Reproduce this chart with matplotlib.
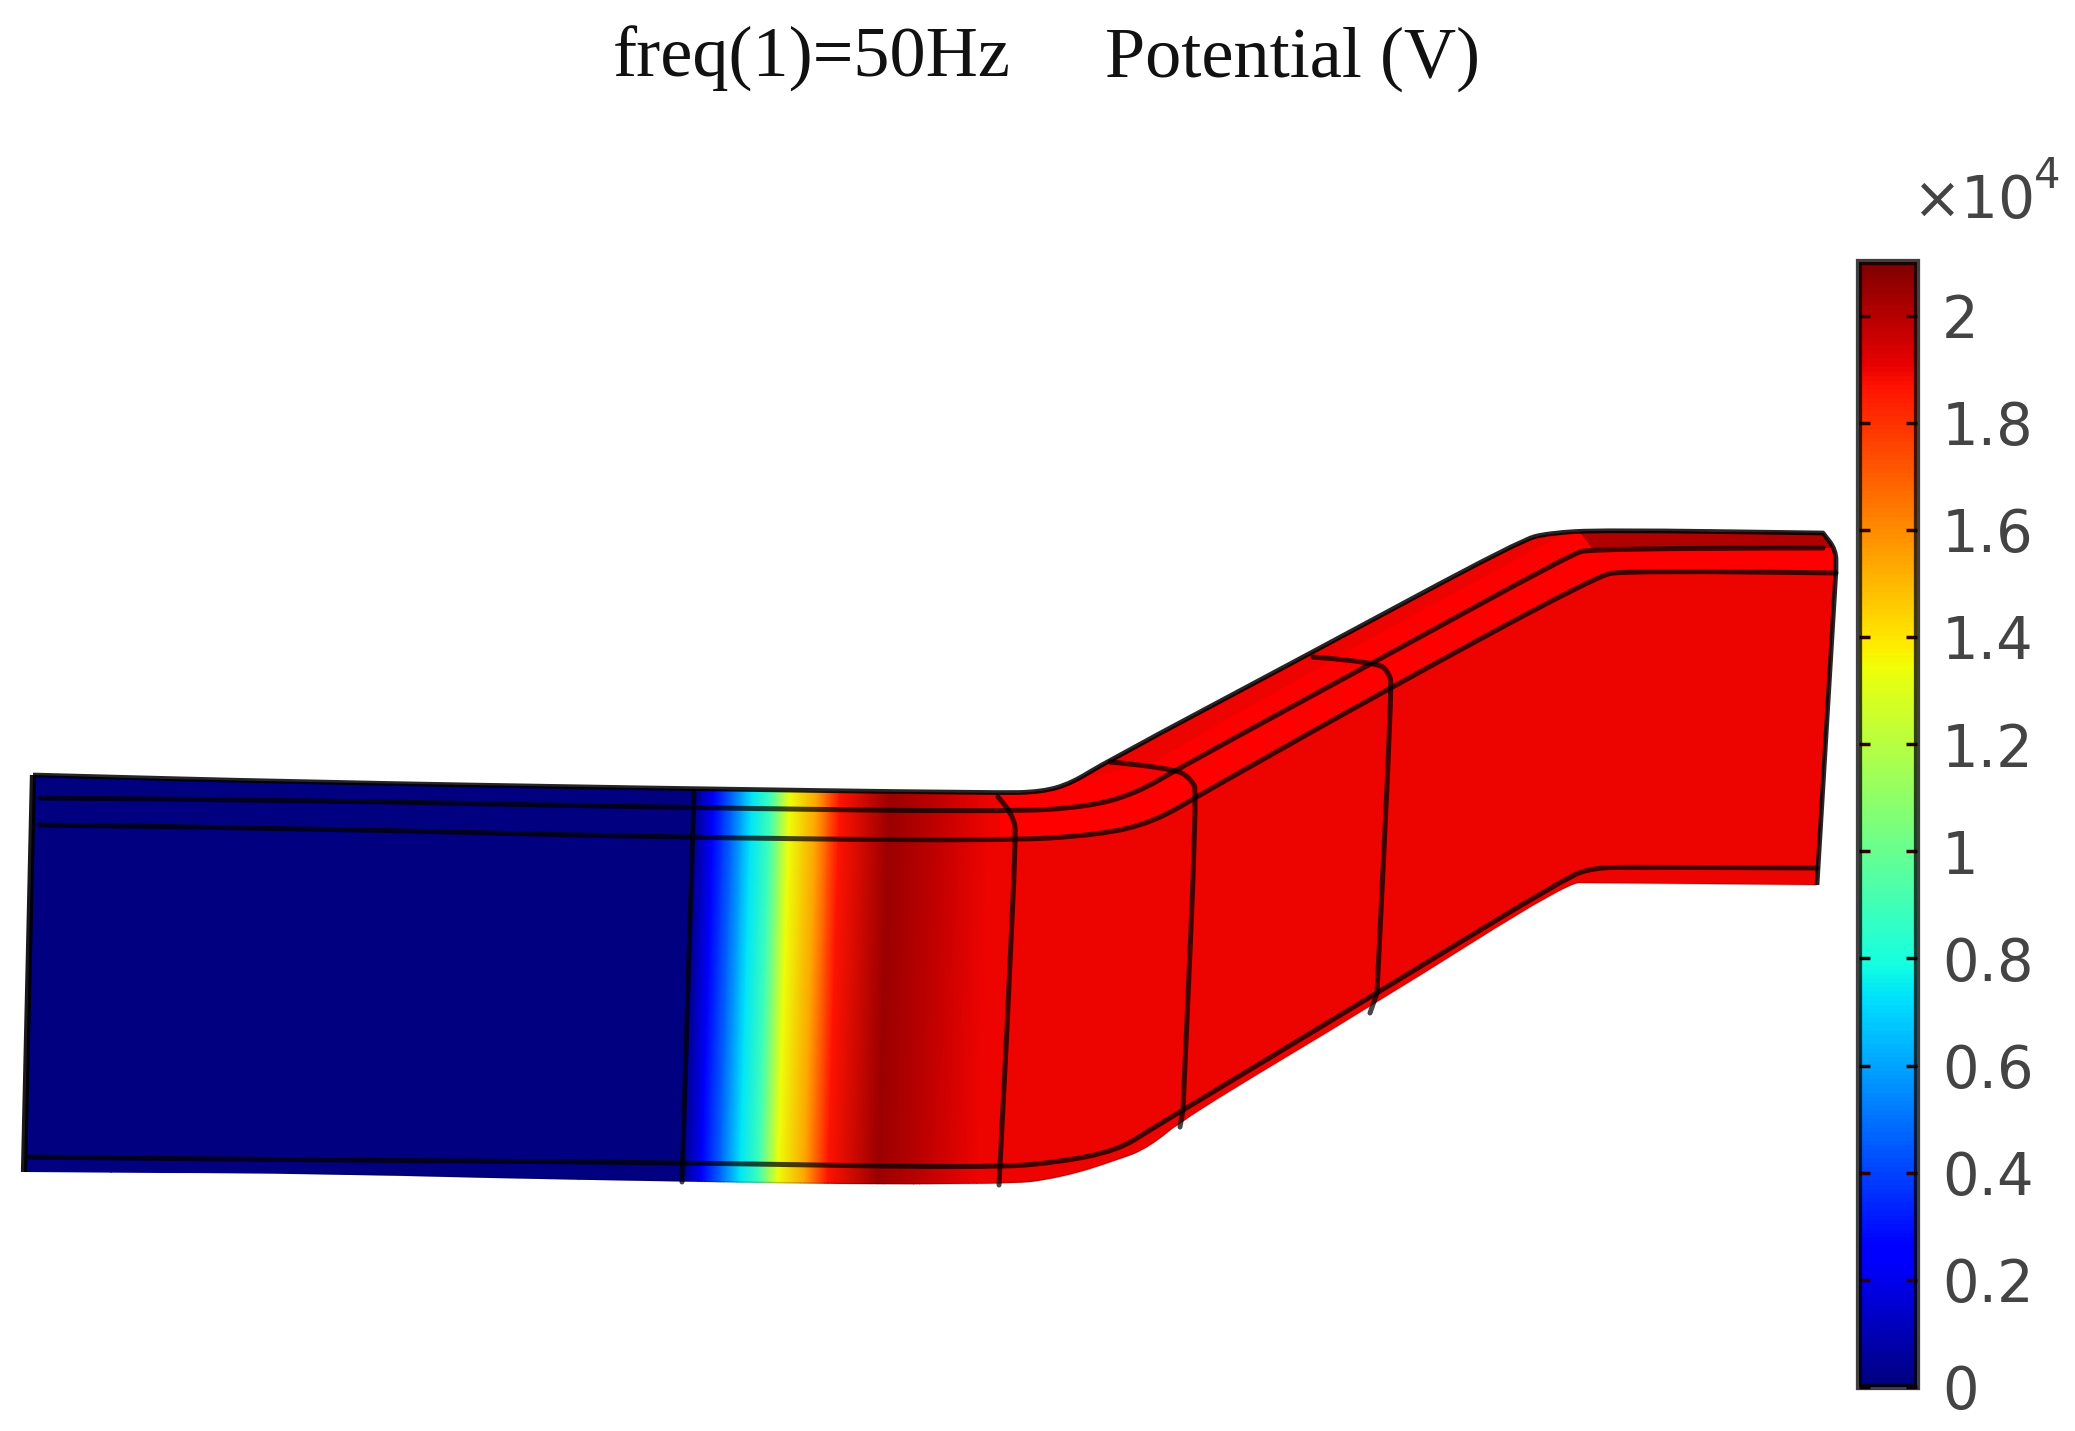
import matplotlib
matplotlib.use('Agg')
import matplotlib.pyplot as plt
import numpy as np
from matplotlib.patches import PathPatch, Polygon
from matplotlib.path import Path

# outline of the busbar in pixels (repeated point = sharp corner)
outline_x = [33, 33, 300, 640, 996, 1042, 1072, 1104, 1307, 1521, 1549, 1603, 1823, 1823, 1836, 1836, 1836, 1817, 1817,
             1590, 1567, 1377, 1183, 1150, 1118, 1061, 1000, 682, 300, 24, 24, 33]
outline_y = [775, 775, 782, 788, 793, 792, 783, 763, 655, 540, 533, 530, 533, 533, 550, 570, 570, 885, 885,
             883, 883, 1003, 1119, 1147, 1160, 1178, 1185, 1182, 1173, 1172, 1172, 775]
# where the stroked top/right part of the outline stops
edge_end = 19

# potential along the bar (x pixel at mid height, value in 1e4 V)
stop_x = [10, 688, 709, 728, 747, 766, 785, 812, 835, 885, 927, 984, 1900]
stop_v = [0, 0, 0.23, 0.48, 0.735, 0.9, 1.34, 1.55, 1.87, 2.05, 1.99, 1.90, 1.90]
vmax = 2.1

# edge lines on the bar
line1_x = [40, 300, 640, 1005, 1088, 1137, 1181, 1378, 1570, 1592, 1823]
line1_y = [798, 800, 807, 812, 807, 793, 767, 660, 555, 548, 548]
line2_x = [40, 300, 640, 1000, 1099, 1154, 1203, 1395, 1595, 1625, 1836]
line2_y = [825, 828, 837, 841, 835, 822, 793, 685, 577, 570, 573]
line3_x = [28, 300, 640, 990, 1061, 1118, 1150, 1183, 1377, 1567, 1593, 1630, 1817]
line3_y = [1157, 1160, 1162, 1168, 1162, 1150, 1130, 1110, 993, 877, 868, 867, 868]

sep0_x = [694, 682]
sep0_y = [793, 1182]
sep1_x = [998, 1013, 1017, 999]
sep1_y = [797, 813, 840, 1185]
sep2_x = [1110, 1175, 1192, 1197, 1183, 1183, 1180]
sep2_y = [762, 768, 780, 793, 1110, 1110, 1127]
sep3_x = [1313, 1378, 1389, 1392, 1377, 1377, 1370]
sep3_y = [657, 662, 673, 685, 993, 993, 1013]

cbar_ticks = [0, 0.2, 0.4, 0.6, 0.8, 1, 1.2, 1.4, 1.6, 1.8, 2]
cbar_labels = ['0', '0.2', '0.4', '0.6', '0.8', '1', '1.2', '1.4', '1.6', '1.8', '2']


def smooth_path(xs, ys):
    # quadratic curve through the midpoints, rounds the bends
    pts = list(zip(xs, ys))
    verts = [pts[0]]
    codes = [Path.MOVETO]
    for i in range(1, len(pts) - 1):
        end = pts[-1] if i == len(pts) - 2 else ((pts[i][0] + pts[i + 1][0]) / 2, (pts[i][1] + pts[i + 1][1]) / 2)
        verts += [pts[i], end]
        codes += [Path.CURVE3, Path.CURVE3]
    if len(pts) == 2:
        verts.append(pts[1])
        codes.append(Path.LINETO)
    return Path(verts, codes)


W, H = 2075, 1431
fig = plt.figure(figsize=(W / 100, H / 100), dpi=100)
ax = fig.add_axes([0, 0, 1, 1])
ax.set_xlim(0, W)
ax.set_ylim(H, 0)
ax.axis('off')

# colour field, isolines lean a little so top and bottom rows are shifted
xs = np.array(stop_x, dtype=float)
X = np.vstack([xs + 14, xs - 11])
Y = np.vstack([np.full_like(xs, 500), np.full_like(xs, 1300)])
C = np.vstack([stop_v, stop_v])
mesh = ax.pcolormesh(X, Y, C, cmap='jet', vmin=0, vmax=vmax, shading='gouraud')
body = PathPatch(smooth_path(outline_x, outline_y), fc='none', ec='none')
ax.add_patch(body)
mesh.set_clip_path(body)

# brighter fillet strip and the dark strip at the far end
strip_top = list(zip(line2_x[3:], [y - 60 for y in line2_y[3:]]))
strip = strip_top + list(zip(line2_x[3:][::-1], line2_y[3:][::-1]))
p = ax.add_patch(Polygon(strip, closed=True, fc='#ff0000', ec='none'))
p.set_clip_path(body)
dark = [(1570, 520), (1850, 520), (1850, 548)] + list(zip(line1_x[9:][::-1], line1_y[9:][::-1]))
p = ax.add_patch(Polygon(dark, closed=True, fc='#b00000', ec='none'))
p.set_clip_path(body)

for lx, ly in [(line1_x, line1_y), (line2_x, line2_y), (line3_x, line3_y),
               (sep0_x, sep0_y), (sep1_x, sep1_y), (sep2_x, sep2_y), (sep3_x, sep3_y)]:
    ax.add_patch(PathPatch(smooth_path(lx, ly), fc='none', ec='black', alpha=0.72, lw=3.6,
                           capstyle='round', joinstyle='round'))

# outline: top and right are dark, the underside hardly shows a line
ax.add_patch(PathPatch(smooth_path(outline_x[:edge_end], outline_y[:edge_end]), fc='none', ec='black',
                       alpha=0.85, lw=3.4, joinstyle='round'))
ax.add_patch(PathPatch(smooth_path(outline_x[-3:], outline_y[-3:]), fc='none', ec='black',
                       alpha=0.9, lw=4.5, joinstyle='round'))
ax.add_patch(PathPatch(smooth_path(outline_x[edge_end - 1:-3], outline_y[edge_end - 1:-3]), fc='none', ec='black',
                       alpha=0.2, lw=1.2))

# colour bar
cax = fig.add_axes([1859 / W, 1 - 1387 / H, 58 / W, (1387 - 262) / H])
cb = fig.colorbar(mesh, cax=cax)
cb.set_ticks(cbar_ticks, labels=cbar_labels)
cax.tick_params(axis='y', which='both', direction='in', left=True, right=True, length=8, width=2.5,
                color='#300000', labelsize=41.5, labelcolor='#444444', pad=18)
cb.outline.set_edgecolor('black')
cb.outline.set_alpha(0.75)
cb.outline.set_linewidth(4.5)

fig.text(1913 / W, 1 - 218 / H, '\u00d710', fontsize=42, color='#444444', family='DejaVu Sans')
fig.text(2034 / W, 1 - 188 / H, '4', fontsize=30, color='#444444', family='DejaVu Sans')

fig.text(613 / W, 1 - 77 / H, 'freq(1)=50Hz', fontsize=52, family='Liberation Serif', color='#111111')
fig.text(1105 / W, 1 - 77 / H, 'Potential (V)', fontsize=52, family='Liberation Serif', color='#111111')

fig.savefig('out.png', dpi=100)
